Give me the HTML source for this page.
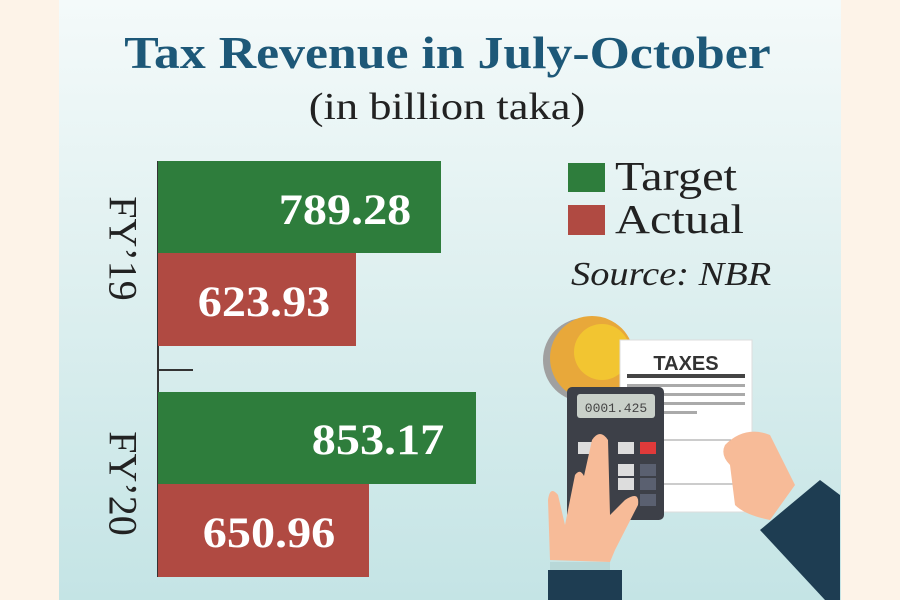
<!DOCTYPE html>
<html><head><style>
body{margin:0;width:900px;height:600px;overflow:hidden;background:#fdf3e8;font-family:"Liberation Serif",serif}
#p{position:absolute;left:59px;top:0;width:782px;height:600px;background:linear-gradient(180deg,#f4fafa 0%,#dff0f0 45%,#c4e4e5 100%)}
.t{position:absolute;white-space:nowrap}
.bar{position:absolute;left:158px}
.v{position:absolute;color:#fff;font-weight:bold;font-size:43px;transform:scaleX(1.12);transform-origin:right center;text-align:right}
</style></head><body>
<div id="p"></div>
<div class="t" style="left:0;width:895px;text-align:center;top:27px;font-size:45px;font-weight:bold;color:#1d5878;transform:scaleX(1.15)">Tax Revenue in July-October</div>
<div class="t" style="left:0;width:894px;text-align:center;top:85px;font-size:38px;color:#222;transform:scaleX(1.17)">(in billion taka)</div>
<div style="position:absolute;left:157px;top:161px;width:2px;height:416px;background:#333"></div>
<div style="position:absolute;left:158px;top:369px;width:35px;height:2px;background:#333"></div>
<div class="bar" style="top:161px;width:283px;height:92px;background:#2e7d3c"></div>
<div class="bar" style="top:253px;width:198px;height:93px;background:#b04a42"></div>
<div class="bar" style="top:392px;width:318px;height:92px;background:#2e7d3c"></div>
<div class="bar" style="top:484px;width:211px;height:93px;background:#b04a42"></div>
<div class="v" style="right:489px;top:186px">789.28</div>
<div class="v" style="right:570px;top:278px">623.93</div>
<div class="v" style="right:456px;top:416px">853.17</div>
<div class="v" style="right:565px;top:509px">650.96</div>
<div class="t" style="left:63px;top:225px;width:120px;text-align:center;font-size:40px;color:#222;transform:rotate(90deg)">FY’19</div>
<div class="t" style="left:63px;top:460px;width:120px;text-align:center;font-size:40px;color:#222;transform:rotate(90deg)">FY’20</div>
<div style="position:absolute;left:568px;top:163px;width:37px;height:29px;background:#2e7d3c"></div>
<div style="position:absolute;left:568px;top:205px;width:37px;height:30px;background:#b04a42"></div>
<div class="t" style="left:615px;top:152px;font-size:41px;color:#222;transform:scaleX(1.18);transform-origin:left">Target</div>
<div class="t" style="left:615px;top:195px;font-size:41px;color:#222;transform:scaleX(1.18);transform-origin:left">Actual</div>
<div class="t" style="left:571px;top:256px;font-size:34px;font-style:italic;color:#222;transform:scaleX(1.13);transform-origin:left">Source: NBR</div>
<svg style="position:absolute;left:520px;top:300px" width="320" height="300">
<circle cx="65" cy="60" r="42" fill="#a0a0a0"/>
<circle cx="72" cy="58" r="42" fill="#e8a83a"/>
<circle cx="82" cy="52" r="28" fill="#f2c531"/>
<rect x="100" y="40" width="132" height="172" fill="#fff" stroke="#ddd"/>
<text x="166" y="70" font-family="Liberation Sans" font-weight="bold" font-size="20" fill="#333" text-anchor="middle">TAXES</text>
<rect x="107" y="74" width="118" height="4" fill="#444"/>
<g fill="#aaa"><rect x="107" y="84" width="118" height="3"/><rect x="107" y="93" width="118" height="3"/><rect x="107" y="102" width="118" height="3"/><rect x="107" y="111" width="70" height="3"/></g>
<g stroke="#999" fill="none"><rect x="140" y="140" width="85" height="44"/></g>
<rect x="47" y="87" width="97" height="133" rx="5" fill="#3d4048"/>
<rect x="57" y="94" width="78" height="24" rx="3" fill="#c9d0c9"/>
<text x="96" y="112" font-family="Liberation Mono" font-size="13" fill="#444" text-anchor="middle">0001.425</text>
<g fill="#ddd"><rect x="58" y="142" width="16" height="12"/><rect x="98" y="142" width="16" height="12"/><rect x="98" y="164" width="16" height="12"/><rect x="98" y="178" width="16" height="12"/></g>
<rect x="120" y="142" width="16" height="12" fill="#e03a3a"/>
<g fill="#5a6070"><rect x="120" y="164" width="16" height="12"/><rect x="120" y="178" width="16" height="12"/><rect x="120" y="194" width="16" height="12"/></g>
<path d="M30 260 L28 200 Q30 185 38 195 L45 225 L55 175 Q60 168 64 176 L72 140 Q80 128 88 140 L90 215 L105 200 Q120 190 118 205 L95 250 L90 262 Z" fill="#f7bb98"/>
<rect x="30" y="262" width="60" height="8" fill="#b8d8d8"/>
<rect x="28" y="270" width="74" height="30" fill="#1e3d52"/>
<path d="M205 145 Q225 125 250 135 L275 185 L250 220 Q225 215 215 205 L210 165 Q200 155 205 145Z" fill="#f7bb98"/>
<path d="M240 230 L300 180 L320 195 L320 300 L305 300 Z" fill="#1e3d52"/>
</svg>
</body></html>
